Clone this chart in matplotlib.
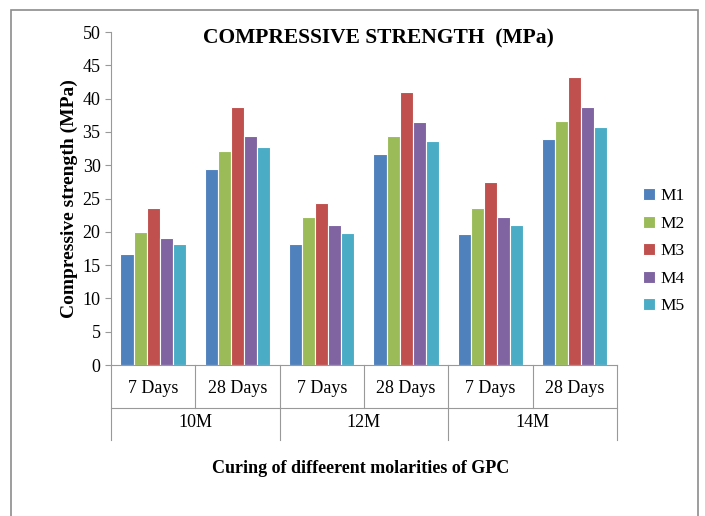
import numpy as np
import matplotlib.pyplot as plt
from matplotlib.transforms import blended_transform_factory
from matplotlib.patches import Rectangle

plt.rcParams['font.family'] = ['Liberation Serif', 'DejaVu Serif']

molarities = ['10M', '12M', '14M']
ages = ['7 Days', '28 Days']
mixes = ['M1', 'M2', 'M3', 'M4', 'M5']
colors = ['#4F81BD', '#9BBB59', '#C0504D', '#8064A2', '#4BACC6']

# strength per mix, ordered 10M-7d, 10M-28d, 12M-7d, 12M-28d, 14M-7d, 14M-28d
m1 = [16.7, 29.5, 18.2, 31.7, 19.7, 33.9]
m2 = [20.0, 32.2, 22.2, 34.4, 23.6, 36.6]
m3 = [23.6, 38.8, 24.4, 41.0, 27.5, 43.3]
m4 = [19.1, 34.4, 21.1, 36.5, 22.2, 38.8]
m5 = [18.1, 32.8, 19.8, 33.6, 21.1, 35.8]
series = [m1, m2, m3, m4, m5]

fig = plt.figure(figsize=(7.05, 5.16), dpi=100)
# chart frame, bottom edge runs past the image
fig.patches.append(Rectangle((11 / 705, -0.02), 687 / 705, 1.02 - 9.5 / 516,
                             transform=fig.transFigure, fill=False,
                             edgecolor='#8C8C8C', linewidth=1.2))
ax = fig.add_axes([0.1574, 0.2926, 0.7177, 0.6453])

x = np.arange(len(m1))
w = 0.155
for i, (vals, name, c) in enumerate(zip(series, mixes, colors)):
    ax.bar(x + (i - 2) * w, vals, w, color=c, edgecolor='white', linewidth=0.8, label=name)

ax.set_xlim(-0.5, len(m1) - 0.5)
ax.set_ylim(0, 50)
ax.set_yticks(range(0, 51, 5))
ax.tick_params(axis='y', labelsize=13, length=4, color='#999999', direction='out')
ax.tick_params(axis='x', bottom=False, labelbottom=False)
for s in ['top', 'right']:
    ax.spines[s].set_visible(False)
for s in ['left', 'bottom']:
    ax.spines[s].set_color('#999999')

# two-level category axis
tr = blended_transform_factory(ax.transData, ax.transAxes)
gray = '#999999'
for b in [-0.5, 1.5, 3.5, 5.5]:
    ax.plot([b, b], [0, -0.225], transform=tr, color=gray, lw=0.8, clip_on=False)
for b in [0.5, 2.5, 4.5]:
    ax.plot([b, b], [0, -0.129], transform=tr, color=gray, lw=0.8, clip_on=False)
ax.plot([-0.5, 5.5], [-0.129, -0.129], transform=tr, color=gray, lw=0.8, clip_on=False)
for j in range(len(m1)):
    ax.text(j, -0.072, ages[j % 2], transform=tr, ha='center', va='center', fontsize=13)
for k, m in enumerate(molarities):
    ax.text(2 * k + 0.5, -0.174, m, transform=tr, ha='center', va='center', fontsize=13)

ax.set_ylabel('Compressive strength (MPa)', fontsize=14, fontweight='bold', labelpad=3)
fig.text(0.511, 0.093, 'Curing of diffeerent molarities of GPC', ha='center', va='center',
         fontsize=13, fontweight='bold')
fig.text(0.537, 0.926, 'COMPRESSIVE STRENGTH  (MPa)', ha='center', va='center',
         fontsize=15.5, fontweight='bold')

ax.legend(loc='center left', bbox_to_anchor=(1.02, 0.342), frameon=False, fontsize=12.5,
          handlelength=0.7, handleheight=0.7, handletextpad=0.3, labelspacing=0.65)

fig.savefig('out.png', dpi=100)
